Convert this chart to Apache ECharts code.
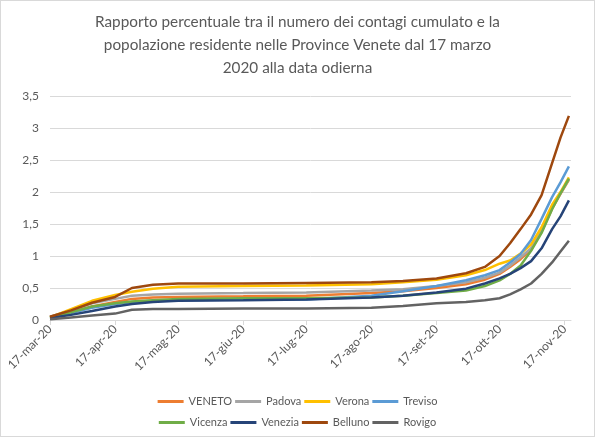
<!DOCTYPE html>
<html>
<head>
<meta charset="utf-8">
<script src="https://cdn.jsdelivr.net/npm/echarts@6/dist/echarts.min.js"></script>
<style>
html,body{margin:0;padding:0;background:#fff;}
#c{width:595px;height:437px;box-sizing:border-box;border:1px solid #d9d9d9;}
</style>
</head>
<body>
<div id="c"></div>
<script>
const titleText = 'Rapporto percentuale tra il numero dei contagi cumulato e la\npopolazione residente nelle Province Venete dal 17 marzo\n2020 alla data odierna';
const monthNames = ['gen','feb','mar','apr','mag','giu','lug','ago','set','ott','nov','dic'];
const tickDates = ['2020-03-17','2020-04-17','2020-05-17','2020-06-17','2020-07-17','2020-08-17','2020-09-17','2020-10-17','2020-11-17'];
const yTicks = [0,0.5,1,1.5,2,2.5,3,3.5];
const dates = ['2020-03-17','2020-03-27','2020-04-06','2020-04-17','2020-04-25','2020-05-05','2020-05-17','2020-06-17','2020-07-17','2020-08-17','2020-09-01','2020-09-17','2020-10-01','2020-10-10','2020-10-17','2020-10-22','2020-10-27','2020-11-01','2020-11-06','2020-11-11','2020-11-15','2020-11-19'];
const seriesNames = ['VENETO','Padova','Verona','Treviso','Vicenza','Venezia','Belluno','Rovigo'];
const VENETO  = [0.05,0.12,0.21,0.28,0.33,0.35,0.36,0.37,0.38,0.42,0.45,0.50,0.56,0.63,0.72,0.83,0.95,1.10,1.38,1.74,1.97,2.19];
const Padova  = [0.05,0.15,0.26,0.33,0.38,0.40,0.41,0.42,0.43,0.46,0.48,0.53,0.59,0.66,0.74,0.85,0.98,1.12,1.40,1.76,1.98,2.20];
const Verona  = [0.04,0.17,0.30,0.39,0.44,0.49,0.52,0.53,0.54,0.56,0.59,0.63,0.70,0.78,0.88,0.93,1.04,1.18,1.45,1.80,2.00,2.23];
const Treviso = [0.04,0.11,0.19,0.25,0.28,0.30,0.31,0.32,0.32,0.38,0.45,0.53,0.62,0.70,0.78,0.90,1.03,1.25,1.58,1.92,2.15,2.40];
const Vicenza = [0.03,0.12,0.21,0.26,0.29,0.31,0.33,0.34,0.34,0.35,0.38,0.42,0.46,0.53,0.62,0.72,0.85,1.08,1.36,1.73,1.98,2.21];
const Venezia = [0.03,0.08,0.14,0.21,0.25,0.28,0.30,0.31,0.32,0.35,0.38,0.43,0.49,0.57,0.65,0.72,0.81,0.92,1.12,1.42,1.62,1.87];
const Belluno = [0.05,0.15,0.27,0.36,0.50,0.55,0.57,0.57,0.58,0.59,0.61,0.65,0.73,0.83,1.00,1.20,1.42,1.65,1.95,2.45,2.85,3.19];
const Rovigo  = [0.01,0.04,0.07,0.10,0.16,0.17,0.17,0.18,0.18,0.19,0.22,0.26,0.28,0.31,0.34,0.40,0.48,0.57,0.72,0.90,1.07,1.24];
const seriesValues = [VENETO,Padova,Verona,Treviso,Vicenza,Venezia,Belluno,Rovigo];
const colors = ['#ED7D31','#A5A5A5','#FFC000','#5B9BD5','#70AD47','#264478','#9E480E','#636363'];

function parseD(s){const p=s.split('-').map(Number);return Date.UTC(p[0],p[1]-1,p[2]);}
const tickTs = tickDates.map(parseD);
const FONT = 'Lato';
const chart = echarts.init(document.getElementById('c'));
const legendBase = {
  left: 'center', icon: 'rect', itemWidth: 26, itemHeight: 3, itemGap: 3,
  textStyle: {color:'#595959', fontSize: 11, fontFamily: FONT},
  selectedMode: false
};
chart.setOption({
  animation: false,
  color: colors,
  title: {
    text: titleText, left: 'center', top: 5,
    textStyle: {color:'#595959', fontSize: 15.3, fontWeight: 'normal', fontFamily: FONT, lineHeight: 23}
  },
  legend: [
    Object.assign({}, legendBase, {top: 390, data: seriesNames.slice(0,4)}),
    Object.assign({}, legendBase, {top: 411, data: seriesNames.slice(4)})
  ],
  grid: {left: 49, right: 23, top: 95, bottom: 116, containLabel: false},
  xAxis: {
    type: 'value',
    min: parseD('2020-03-17'), max: parseD('2020-11-20'),
    axisLine: {lineStyle: {color:'#d9d9d9', width: 1}},
    axisTick: {show: true, customValues: tickTs, length: 5, lineStyle:{color:'#d9d9d9'}},
    splitLine: {show: false},
    axisLabel: {
      customValues: tickTs, rotate: 45, color:'#595959', fontSize: 12, fontFamily: FONT, margin: 7,
      formatter: function(v){const d=new Date(v);return d.getUTCDate()+'-'+monthNames[d.getUTCMonth()]+'-20';}
    }
  },
  yAxis: {
    type: 'value', min: yTicks[0], max: yTicks[yTicks.length-1], interval: 0.5,
    axisLine: {show:false}, axisTick:{show:false},
    splitLine: {lineStyle:{color:'#d9d9d9', width: 1}},
    axisLabel: {color:'#595959', fontSize: 12, fontFamily: FONT, margin: 11,
      formatter: function(v){return String(v).replace('.',',');}}
  },
  series: seriesNames.map((n,i)=>({
    name: n, type: 'line', showSymbol: false, symbol: 'none',
    lineStyle: {width: 2.5, color: colors[i]},
    itemStyle: {color: colors[i]},
    data: dates.map((d,j)=>[parseD(d), seriesValues[i][j]])
  }))
});
</script>
</body>
</html>
